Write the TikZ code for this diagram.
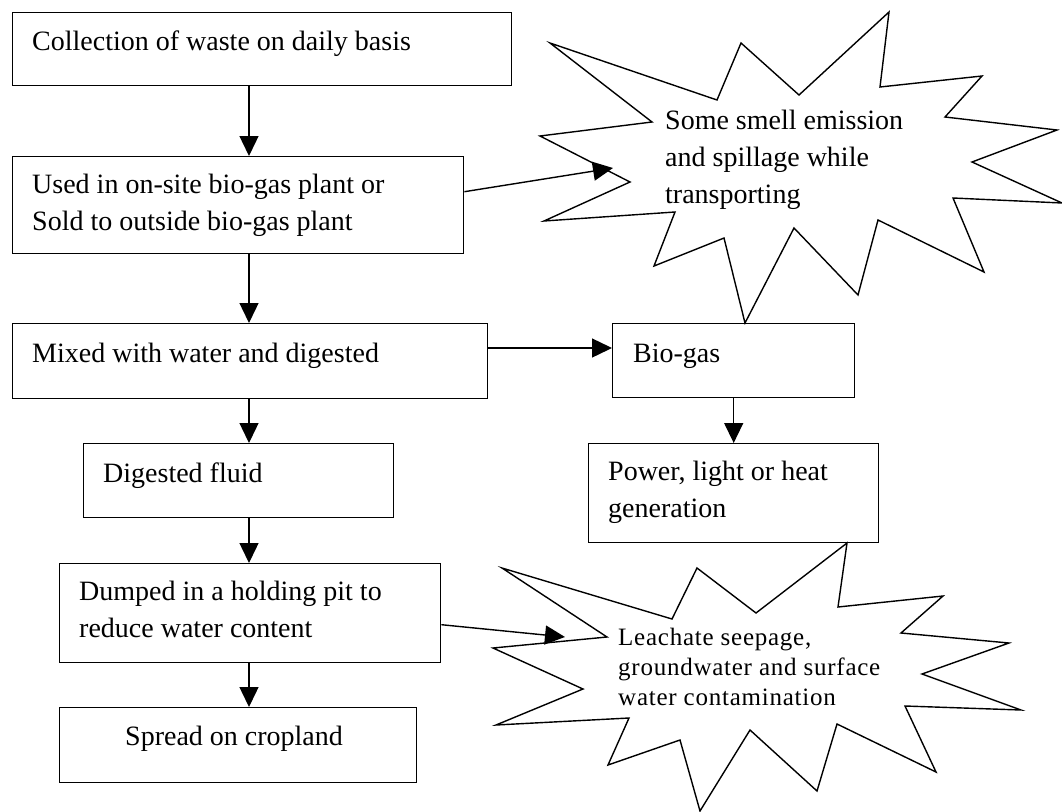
\documentclass[tikz,border=0pt]{standalone}
\usepackage{fontspec}
\setmainfont{Liberation Serif}
\usetikzlibrary{arrows.meta}
\begin{document}
\begin{tikzpicture}[x=1pt,y=-1pt,
  box/.style={draw, line width=1.4pt, rectangle, inner sep=0pt, anchor=north west},
  txt/.style={inner sep=0pt, anchor=base west, align=left, font=\fontsize{28}{37}\selectfont},
  smalltxt/.style={inner sep=0pt, anchor=base west, align=left, font=\fontsize{25}{30}\selectfont\addfontfeatures{LetterSpace=3}},
  arr/.style={line width=1.4pt, -{Triangle[length=20pt,width=19pt]}},
  burst/.style={draw, line width=1.4pt, line join=miter}]
\useasboundingbox (0,0) rectangle (1062,811);

% boxes
\node[box, minimum width=499pt, minimum height=73pt] (b1) at (12,12) {};
\node[box, minimum width=451pt, minimum height=97pt] (b2) at (12,156) {};
\node[box, minimum width=475pt, minimum height=75pt] (b3) at (12,323) {};
\node[box, minimum width=310pt, minimum height=74pt] (b4) at (83,443) {};
\node[box, minimum width=381pt, minimum height=99pt] (b5) at (59,563) {};
\node[box, minimum width=357pt, minimum height=75pt] (b6) at (59,707) {};
\node[box, minimum width=242pt, minimum height=74pt] (bio) at (612,323) {};
\node[box, minimum width=290pt, minimum height=99pt] (pow) at (588,443) {};

% texts (anchor = baseline of the last line)
\node[txt] (t1) at (32,50) {Collection of waste on daily basis};
\node[txt] (t2) at (32,230) {Used in on-site bio-gas plant or\\Sold to outside bio-gas plant};
\node[txt] (t3) at (32,362) {Mixed with water and digested};
\node[txt] (t4) at (103,482) {Digested fluid};
\node[txt] (t5) at (79,637) {Dumped in a holding pit to\\reduce water content};
\node[txt] (t6) at (125,745) {Spread on cropland};
\node[txt] (tbio) at (633,362) {Bio-gas};
\node[txt] (tpow) at (608,517) {Power, light or heat\\generation};

% starbursts
\draw[burst] (550,43) -- (717,100) -- (741,43) -- (799,95) -- (889,12) -- (880,87)
  -- (982,76) -- (945,117) -- (1057,130) -- (972,162) -- (1062,203) -- (953,198)
  -- (984,272) -- (878,220) -- (858,295) -- (794,228) -- (745,323) -- (724,238)
  -- (654,266) -- (675,212) -- (544,221) -- (630,182) -- (540,136) -- (652,122) -- cycle;
\node[txt] (ts1) at (665,203) {Some smell emission\\and spillage while\\transporting};

\draw[burst] (502,568) -- (672,619) -- (697,568) -- (756,613) -- (847,543) -- (838,607)
  -- (943,596) -- (901,633) -- (1009,643) -- (922,674) -- (1021,710) -- (905,706)
  -- (936,772) -- (837,724) -- (817,791) -- (750,730) -- (700,811) -- (680,740)
  -- (608,765) -- (629,718) -- (496,725) -- (583,689) -- (493,648) -- (607,637) -- cycle;
\node[smalltxt] (ts2) at (618,705) {Leachate seepage,\\groundwater and surface\\water contamination};

% connectors
\coordinate (ax) at (249,0);
\coordinate (biolev) at (0,348);
\coordinate (s1tip) at (613,168);
\coordinate (s2tip) at (565,637);
\draw[arr] (b1.south -| ax) -- (b2.north -| ax);
\draw[arr] (b2.south -| ax) -- (b3.north -| ax);
\draw[arr] (b3.south -| ax) -- (b4.north -| ax);
\draw[arr] (b4.south -| ax) -- (b5.north -| ax);
\draw[arr] (b5.south -| ax) -- (b6.north -| ax);
\draw[arr] (b3.east |- biolev) -- (bio.west |- biolev);
\draw[arr] (bio.south) -- (pow.north);
\draw[arr] ([yshift=13.5pt]b2.east) -- (s1tip);
\draw[arr] ([yshift=-11.5pt]b5.east) -- (s2tip);
\end{tikzpicture}
\end{document}
